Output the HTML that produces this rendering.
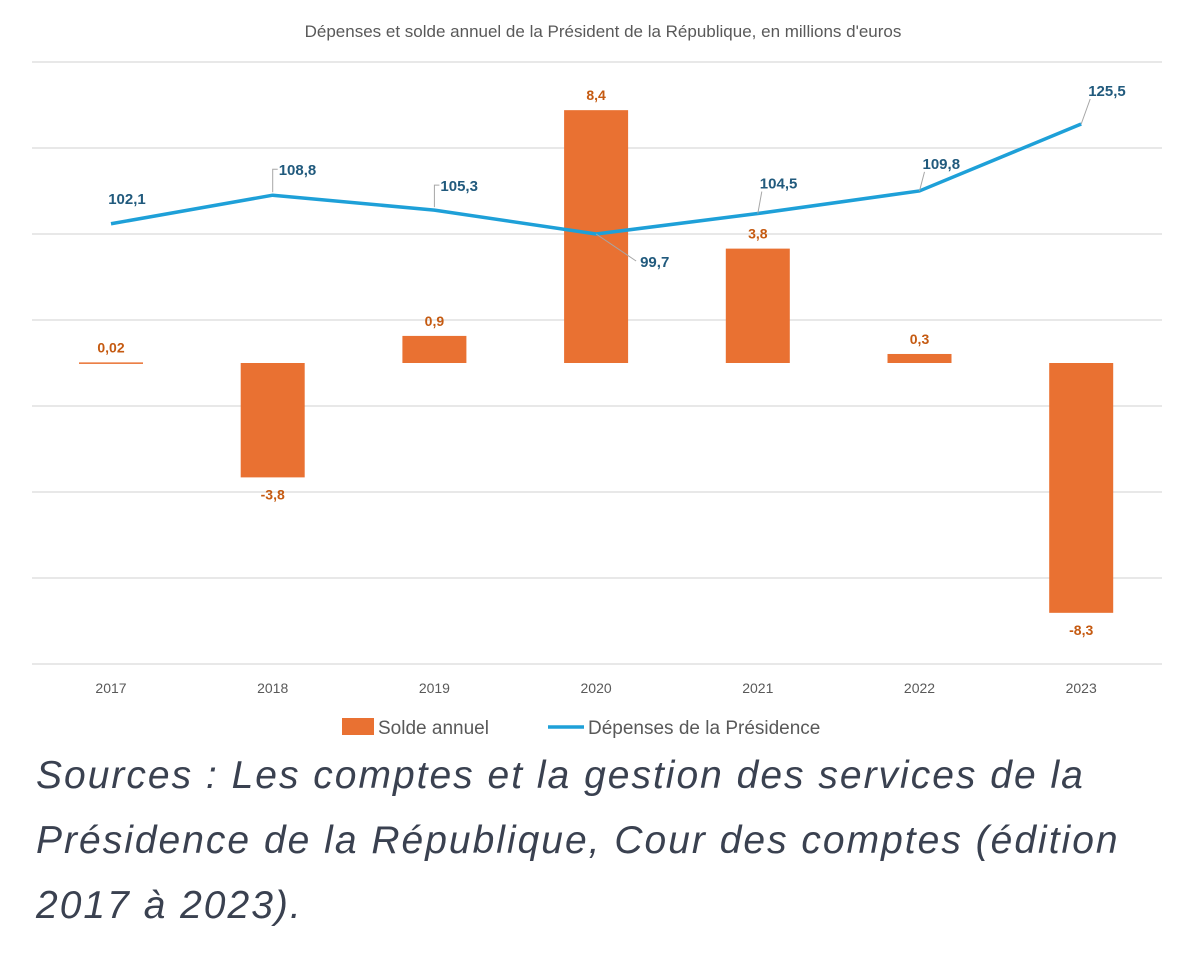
<!DOCTYPE html>
<html><head><meta charset="utf-8">
<style>
body{margin:0;background:#fff;width:1200px;height:966px;overflow:hidden;font-family:"Liberation Sans",sans-serif}
svg{position:absolute;left:0;top:0}
.src{position:absolute;left:36px;top:743px;white-space:nowrap;font-style:italic;font-size:39px;line-height:65px;color:#3a4150;letter-spacing:2px}
</style></head><body>
<svg width="1200" height="740">
<g id="grid"></g><g id="bars"></g><g id="line"></g><g id="labels"></g><g id="xaxis"></g>
<text x="603" y="37" text-anchor="middle" font-size="17" fill="#595959">Dépenses et solde annuel de la Président de la République, en millions d'euros</text>
<g>
<rect x="342" y="718" width="32" height="17" fill="#e97132"/>
<text x="378" y="734" font-size="19" fill="#595959">Solde annuel</text>
<line x1="548" y1="727" x2="584" y2="727" stroke="#1ea0d8" stroke-width="3.5"/>
<text x="588" y="734" font-size="19" fill="#595959">Dépenses de la Présidence</text>
</g>
</svg>
<div class="src">Sources : Les comptes et la gestion des services de la<br>Présidence de la République, Cour des comptes (édition<br>2017 à 2023).</div>
<script>
const years=['2017','2018','2019','2020','2021','2022','2023'];
const solde=[0.02,-3.8,0.9,8.4,3.8,0.3,-8.3];
const soldeLabels=['0,02','-3,8','0,9','8,4','3,8','0,3','-8,3'];
const depenses=[102.1,108.8,105.3,99.7,104.5,109.8,125.5];
const depLabels=['102,1','108,8','105,3','99,7','104,5','109,8','125,5'];
const NS='http://www.w3.org/2000/svg';
function mk(t,a,p){const e=document.createElementNS(NS,t);for(const k in a)e.setAttribute(k,a[k]);p.appendChild(e);return e;}
const x=i=>111+i*161.7;
const yBar=v=>363-v*30.1;
const yLine=v=>234-(v-99.7)*4.264;
const grid=document.getElementById('grid');
for(let k=0;k<8;k++){const g=mk('line',{x1:32,x2:1162,y1:62+k*86,y2:62+k*86,stroke:'#d9d9d9','stroke-width':1.2},grid);

}
const bars=document.getElementById('bars'),labels=document.getElementById('labels'),xa=document.getElementById('xaxis');
solde.forEach((v,i)=>{
 const y0=yBar(0),y1=yBar(v);
 const r=mk('rect',{x:x(i)-32,y:Math.min(y0,y1),width:64,height:Math.max(1.5,Math.abs(y1-y0)),fill:'#e97132'},bars);
 
 
 const ty=v>=0?Math.min(y0,y1)-10:Math.max(y0,y1)+22;
 const t=mk('text',{x:x(i),y:ty,'text-anchor':'middle','font-size':14,'font-weight':'bold',fill:'#c55a11'},labels);
 t.textContent=soldeLabels[i];
 
 
 const xt=mk('text',{x:x(i),y:693,'text-anchor':'middle','font-size':14,fill:'#595959'},xa);
 xt.textContent=years[i];
 
 
});
const pts=depenses.map((v,i)=>x(i)+','+yLine(v)).join(' ');
const pl=mk('polyline',{points:pts,fill:'none',stroke:'#1ea0d8','stroke-width':3.5,'stroke-linejoin':'round'},document.getElementById('line'));


// label offsets (layout): dx, dy, leader type
const off=[[16,-20,0],[6,-20,1],[6,-19,1],[44,33,2],[2,-25,2],[3,-22,2],[7,-28,2]];
depenses.forEach((v,i)=>{
 const px=x(i),py=yLine(v),o=off[i];
 const lx=px+o[0],ly=py+o[1];
 if(o[2]==1){const p=mk('polyline',{points:`${px},${py-3} ${px},${ly-6} ${px+5},${ly-6}`,fill:'none',stroke:'#a6a6a6','stroke-width':1},labels);
  }
 if(o[2]==2){const ey=o[1]>0?ly-6:ly+3;const ex=o[1]>0?lx-4:lx+2;
  const p=mk('line',{x1:px,y1:py,x2:ex,y2:ey,stroke:'#a6a6a6','stroke-width':1},labels);
  }
 const t=mk('text',{x:lx,y:ly,'font-size':15,'font-weight':'bold',fill:'#215a7d','text-anchor':i==0?'middle':'start'},labels);
 t.textContent=depLabels[i];
 
 
});
</script>
</body></html>
